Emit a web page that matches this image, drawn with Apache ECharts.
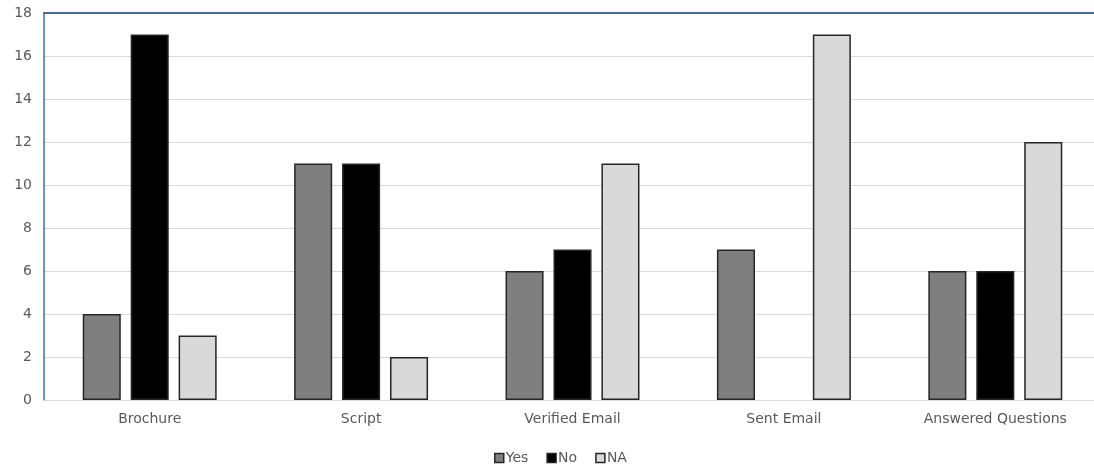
<!DOCTYPE html>
<html><head><meta charset="utf-8">
<script src="https://cdn.jsdelivr.net/npm/echarts@6/dist/echarts.min.js"></script>
<style>html,body{margin:0;padding:0;background:#fff;overflow:hidden}#c{width:1101px;height:474px}</style>
</head><body><div id="c"></div>
<script>
const categories = ["Brochure", "Script", "Verified Email", "Sent Email", "Answered Questions"];
const yesValues = [4, 11, 6, 7, 6];
const noValues = [17, 11, 7, 0, 6];
const naValues = [3, 2, 11, 17, 12];
const seriesNames = ["Yes", "No", "NA"];
const yTicks = { min: 0, max: 18, interval: 2 };

const chart = echarts.init(document.getElementById('c'), null, { renderer: 'canvas' });
const font = "'DejaVu Sans', sans-serif";
const border = { borderColor: '#262626', borderWidth: 1.5 };
function bar(name, data, color) {
  return {
    name, type: 'bar', data: data.map(v => v === 0 ? null : v),
    barWidth: '18%', barGap: '26%',
    itemStyle: Object.assign({ color }, border)
  };
}
chart.setOption({
  animation: false,
  textStyle: { fontFamily: font },
  grid: { left: 44, right: 0, top: 13, bottom: 74 },
  legend: {
    bottom: 4, left: 489, itemWidth: 9, itemHeight: 9, itemGap: 18,
    icon: 'rect',
    textStyle: { color: '#595959', fontSize: 14, fontFamily: font, padding: [0, 0, 0, -3] },
    data: seriesNames.map(n => ({ name: n, itemStyle: { borderColor: '#262626', borderWidth: 1.5 } }))
  },
  xAxis: [{
    type: 'category', data: categories,
    axisLine: { lineStyle: { color: '#d9d9d9', width: 1 } },
    axisTick: { show: false },
    axisLabel: { color: '#595959', fontSize: 14, margin: 12, fontFamily: font }
  }, {
    type: 'category', data: categories, position: 'top',
    axisLine: { show: true, lineStyle: { color: '#4a6d99', width: 2 } },
    axisTick: { show: false }, axisLabel: { show: false }
  }],
  yAxis: {
    type: 'value', min: yTicks.min, max: yTicks.max, interval: yTicks.interval,
    axisLine: { show: true, lineStyle: { color: '#4a6d99', width: 1.5 } },
    axisTick: { show: false },
    splitLine: { lineStyle: { color: '#d9d9d9', width: 1 } },
    axisLabel: { color: '#595959', fontSize: 14, margin: 12, fontFamily: font }
  },
  series: [
    bar(seriesNames[0], yesValues, '#7f7f7f'),
    bar(seriesNames[1], noValues, '#000000'),
    bar(seriesNames[2], naValues, '#d9d9d9')
  ]
});
</script></body></html>
